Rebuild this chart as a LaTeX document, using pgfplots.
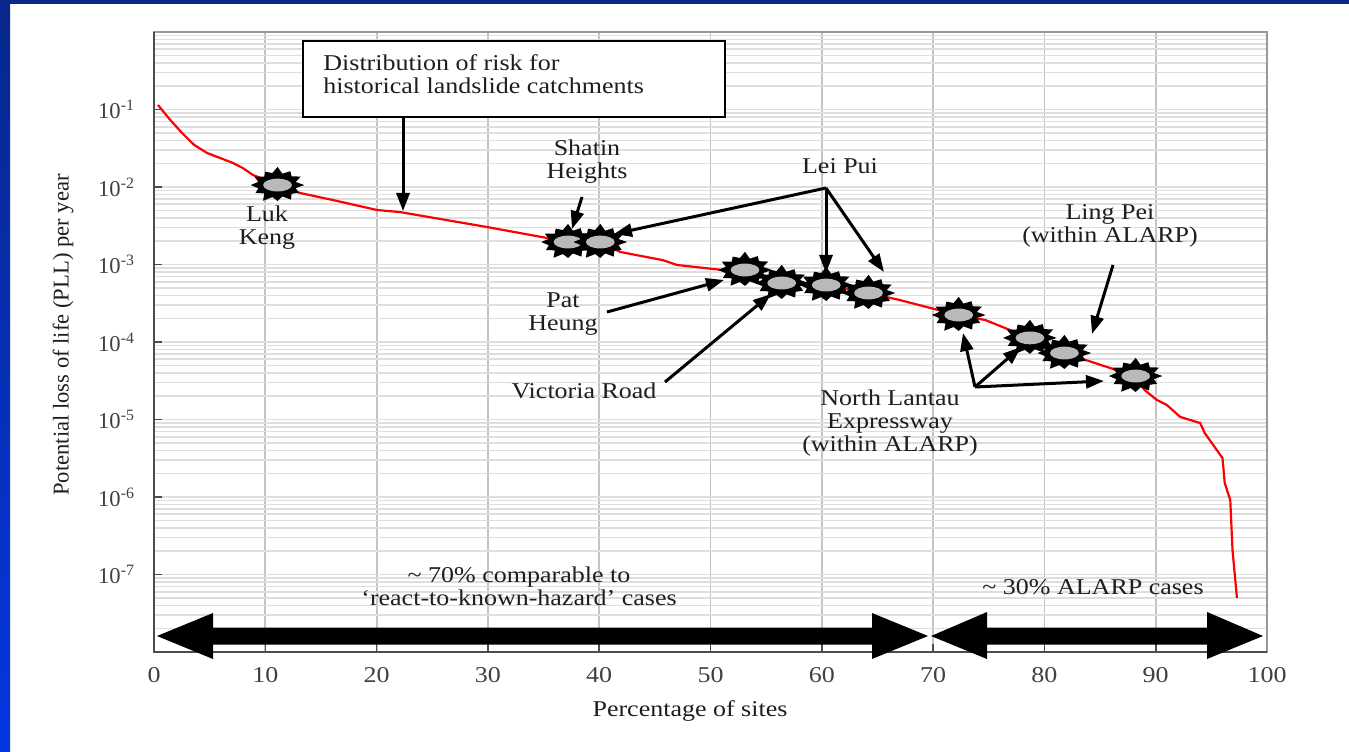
\documentclass[border=0pt]{standalone}
\usepackage{fontspec}
\setmainfont{Liberation Serif}
\newfontfamily\widefont{Liberation Serif}[FakeStretch=1.15, Ligatures=TeX]
\usepackage{pgfplots}
\pgfplotsset{compat=1.18}
\usetikzlibrary{arrows.meta}

\definecolor{gridv}{RGB}{195,195,195}
\definecolor{gridh}{RGB}{222,222,222}
\definecolor{navy}{RGB}{8,40,140}
\definecolor{slideblue}{RGB}{5,55,225}
\definecolor{txt}{RGB}{30,30,30}
\definecolor{burstgray}{RGB}{185,185,185}

\newcommand\bp[2]{\pgfpathlineto{\pgfpoint{13.4pt*#2*cos(#1)}{8.4pt*#2*sin(#1)}}}
\pgfdeclareplotmark{burst}{%
  \pgfsetfillcolor{black}%
  \pgfpathmoveto{\pgfpoint{13.4pt}{0pt}}%
  \bp{15}{0.7}\bp{30}{1.0}\bp{45}{0.74}\bp{60}{0.95}\bp{75}{0.7}\bp{90}{1.08}%
  \bp{105}{0.74}\bp{120}{0.92}\bp{135}{0.7}\bp{150}{1.0}\bp{165}{0.74}\bp{180}{1.0}%
  \bp{195}{0.74}\bp{210}{0.95}\bp{225}{0.7}\bp{240}{1.08}\bp{255}{0.74}\bp{270}{0.95}%
  \bp{285}{0.7}\bp{300}{1.0}\bp{315}{0.74}\bp{330}{0.92}\bp{345}{0.7}%
  \pgfpathclose
  \pgfusepathqfill
  \pgfsetfillcolor{burstgray}%
  \pgfpathellipse{\pgfpointorigin}{\pgfpoint{7.2pt}{0pt}}{\pgfpoint{0pt}{3.2pt}}%
  \pgfusepathqfill
}

\tikzset{
  px/.style={x=0.5pt, y=-0.5pt, shift={(0pt,375.5pt)}},
  arr/.style={line width=1.5pt, -{Triangle[length=9pt,width=6.5pt]}},
  lbl/.style={font=\widefont\fontsize{11.3}{11.5}\selectfont, text=txt, align=center, inner sep=0pt},
}

\begin{document}
\begin{tikzpicture}
\begin{scope}[px]
  \fill[white] (0,0) rectangle (1349,751);
  \fill[navy] (0,0) rectangle (1349,4);
  \shade[top color=navy, bottom color=slideblue] (0,0) rectangle (10,751);
\end{scope}

\begin{axis}[
  at={(77pt,49.5pt)}, anchor=south west,
  scale only axis, width=556.5pt, height=310pt,
  xmin=0, xmax=100, ymin=1e-8, ymax=1, ymode=log,
  xtick={0,10,...,100},
  xticklabels={0,10,20,30,40,50,60,70,80,90,100},
  ytick={1e-7,1e-6,1e-5,1e-4,1e-3,1e-2,1e-1},
  yticklabels={10\textsuperscript{-7},10\textsuperscript{-6},10\textsuperscript{-5},10\textsuperscript{-4},10\textsuperscript{-3},10\textsuperscript{-2},10\textsuperscript{-1}},
  minor ytick={2e-8,3e-8,4e-8,5e-8,6e-8,7e-8,8e-8,9e-8,
    2e-7,3e-7,4e-7,5e-7,6e-7,7e-7,8e-7,9e-7,
    2e-6,3e-6,4e-6,5e-6,6e-6,7e-6,8e-6,9e-6,
    2e-5,3e-5,4e-5,5e-5,6e-5,7e-5,8e-5,9e-5,
    2e-4,3e-4,4e-4,5e-4,6e-4,7e-4,8e-4,9e-4,
    2e-3,3e-3,4e-3,5e-3,6e-3,7e-3,8e-3,9e-3,
    2e-2,3e-2,4e-2,5e-2,6e-2,7e-2,8e-2,9e-2,
    2e-1,3e-1,4e-1,5e-1,6e-1,7e-1,8e-1,9e-1},
  tick pos=left, tick align=inside,
  major tick length=4pt, minor tick length=0pt,
  xmajorgrids, ymajorgrids, yminorgrids,
  major x grid style={gridv, line width=0.9pt},
  major y grid style={gridh, line width=0.8pt},
  minor y grid style={gridh, line width=0.8pt},
  axis line style={black!40, line width=1pt},
  tick style={black!70, line width=0.8pt},
  tick label style={font=\fontsize{11.3}{12}\selectfont, text=black!75},
  xticklabel style={yshift=-4pt, font=\widefont\fontsize{11.3}{12}\selectfont},
  yticklabel style={xshift=-6pt},
  clip=false,
]
\addplot[red, line width=1.1pt] coordinates {
(0.36,0.1143) (1.4,0.075) (2.52,0.0498) (3.6,0.035) (4.76,0.0275) (6.0,0.0235) (7.10,0.0204) (8.0,0.0175) (8.89,0.0143)
(11.14,0.0106) (13.12,0.00837) (16.08,0.00679) (20.04,0.00505) (22.10,0.00475)
(29.9,0.00305) (35.3,0.00220) (37.2,0.00195) (40.1,0.00195) (41.9,0.00145)
(45.7,0.00114) (47.0,0.000986) (51.1,0.000849) (53.1,0.000849) (56.2,0.000594)
(60.4,0.000543) (64.2,0.000429) (67.0,0.000348) (72.2,0.000223) (74.7,0.000192)
(76.9,0.000143) (78.7,0.000113) (81.8,0.0000721) (88.1,0.0000364) (89.0,0.0000240)
(90.1,0.0000179) (91.0,0.0000154) (92.2,0.0000108) (94.0,0.0000090) (94.4,0.0000067)
(96.0,0.00000318) (96.2,0.00000152) (96.7,0.00000091) (96.9,0.000000207) (97.3,0.0000000498)
};
\addplot[only marks, mark=burst] coordinates {
(11.1,0.0106) (37.2,0.00195) (40.1,0.00195) (53.1,0.00085) (56.4,0.000577)
(60.4,0.000543) (64.2,0.000429) (72.3,0.000223) (78.7,0.000113) (81.8,0.0000721)
(88.2,0.0000364)
};
\end{axis}

\begin{scope}[px]
  % darker left and bottom axis lines
  \draw[black!70, line width=1.1pt] (154,32) -- (154,652) -- (1267,652);
  % distribution box
  \draw[line width=1pt, fill=white] (303,41) rectangle (725,117);
  \node[lbl, align=left, anchor=west] at (323,74) {Distribution of risk for\\historical landslide catchments};
  \draw[arr] (403,117) -- (403,211);
  % labels
  \node[lbl] at (267,228) {Luk\\Keng};
  \node[lbl] at (587,162) {Shatin\\Heights};
  \node[lbl] at (840,166) {Lei Pui};
  \node[lbl] at (563,314) {Pat\\Heung};
  \node[lbl] at (584,391) {Victoria Road};
  \node[lbl] at (890,423) {North Lantau\\Expressway\\(within ALARP)};
  \node[lbl] at (1110,226) {Ling Pei\\(within ALARP)};
  \node[lbl] at (519,586) {\textasciitilde{} 70\% comparable to\\‘react-to-known-hazard’ cases};
  \node[lbl] at (1093,587) {\textasciitilde{} 30\% ALARP cases};
  \node[lbl] at (690,711) {Percentage of sites};
  \node[lbl, font=\fontsize{11.3}{11.5}\selectfont, rotate=90] at (63,335) {Potential loss of life (PLL) per year};
  % arrows
  \draw[arr] (582,197) -- (572,229);
  \draw[arr] (826,188) -- (614,234);
  \draw[arr] (826,188) -- (826,273);
  \draw[arr] (826,188) -- (884,272);
  \draw[arr] (607,312) -- (724,280);
  \draw[arr] (665,382) -- (771,294);
  \draw[arr] (975,387) -- (963,333);
  \draw[arr] (975,387) -- (1021,347);
  \draw[arr] (975,387) -- (1104,381);
  \draw[arr] (1113,265) -- (1092,334);
  % big double arrows
  \fill[black] (157,636) -- (213,613) -- (213,627.5) -- (872,627.5) -- (872,613)
     -- (928,636) -- (872,659) -- (872,644.5) -- (213,644.5) -- (213,659) -- cycle;
  \fill[black] (931,636) -- (987,612) -- (987,627.5) -- (1207,627.5) -- (1207,612)
     -- (1263,636) -- (1207,659) -- (1207,644.5) -- (987,644.5) -- (987,659) -- cycle;
\end{scope}
\pgfresetboundingbox
\path[use as bounding box] (0pt,0pt) rectangle (674.5pt,375.5pt);
\end{tikzpicture}
\end{document}
